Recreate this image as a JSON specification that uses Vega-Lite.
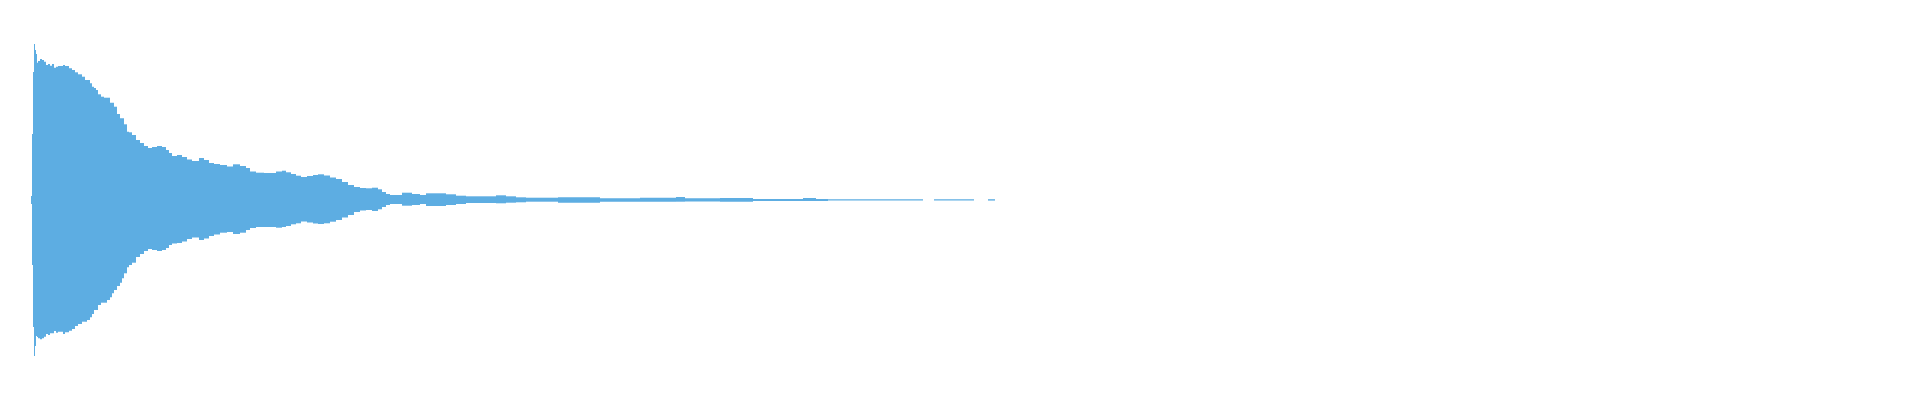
{
  "$schema": "https://vega.github.io/schema/vega-lite/v6.json",
  "width": 1920,
  "height": 400,
  "autosize": {"type": "fit", "contains": "padding"},
  "padding": 0,
  "background": "white",
  "data": {
    "values": [
      {"t0": 0.31, "t1": 0.32, "hi": 0.02, "lo": -0.02},
      {"t0": 0.32, "t1": 0.33, "hi": 0.33, "lo": -0.325},
      {"t0": 0.33, "t1": 0.34, "hi": 0.64, "lo": -0.635},
      {"t0": 0.34, "t1": 0.35, "hi": 0.78, "lo": -0.78},
      {"t0": 0.35, "t1": 0.36, "hi": 0.75, "lo": -0.73},
      {"t0": 0.36, "t1": 0.37, "hi": 0.73, "lo": -0.68},
      {"t0": 0.37, "t1": 0.38, "hi": 0.6865, "lo": -0.685},
      {"t0": 0.38, "t1": 0.40, "hi": 0.695, "lo": -0.6915},
      {"t0": 0.40, "t1": 0.42, "hi": 0.705, "lo": -0.6965},
      {"t0": 0.42, "t1": 0.44, "hi": 0.70, "lo": -0.6915},
      {"t0": 0.44, "t1": 0.46, "hi": 0.6915, "lo": -0.6835},
      {"t0": 0.46, "t1": 0.48, "hi": 0.675, "lo": -0.67},
      {"t0": 0.48, "t1": 0.50, "hi": 0.68, "lo": -0.675},
      {"t0": 0.50, "t1": 0.52, "hi": 0.6715, "lo": -0.6665},
      {"t0": 0.52, "t1": 0.54, "hi": 0.68, "lo": -0.6665},
      {"t0": 0.54, "t1": 0.56, "hi": 0.6615, "lo": -0.655},
      {"t0": 0.56, "t1": 0.58, "hi": 0.6665, "lo": -0.6635},
      {"t0": 0.58, "t1": 0.63, "hi": 0.67, "lo": -0.6585},
      {"t0": 0.63, "t1": 0.65, "hi": 0.675, "lo": -0.67},
      {"t0": 0.65, "t1": 0.69, "hi": 0.67, "lo": -0.6615},
      {"t0": 0.69, "t1": 0.72, "hi": 0.6585, "lo": -0.6535},
      {"t0": 0.72, "t1": 0.75, "hi": 0.65, "lo": -0.645},
      {"t0": 0.75, "t1": 0.78, "hi": 0.6385, "lo": -0.63},
      {"t0": 0.78, "t1": 0.82, "hi": 0.6285, "lo": -0.62},
      {"t0": 0.82, "t1": 0.85, "hi": 0.6165, "lo": -0.6085},
      {"t0": 0.85, "t1": 0.87, "hi": 0.60, "lo": -0.6085},
      {"t0": 0.87, "t1": 0.90, "hi": 0.60, "lo": -0.60},
      {"t0": 0.90, "t1": 0.92, "hi": 0.5835, "lo": -0.5865},
      {"t0": 0.92, "t1": 0.94, "hi": 0.5665, "lo": -0.57},
      {"t0": 0.94, "t1": 0.96, "hi": 0.56, "lo": -0.55},
      {"t0": 0.96, "t1": 0.98, "hi": 0.55, "lo": -0.55},
      {"t0": 0.98, "t1": 1.01, "hi": 0.5285, "lo": -0.525},
      {"t0": 1.01, "t1": 1.04, "hi": 0.5165, "lo": -0.5135},
      {"t0": 1.04, "t1": 1.07, "hi": 0.5115, "lo": -0.5135},
      {"t0": 1.07, "t1": 1.10, "hi": 0.5115, "lo": -0.50},
      {"t0": 1.10, "t1": 1.12, "hi": 0.4865, "lo": -0.4865},
      {"t0": 1.12, "t1": 1.14, "hi": 0.4865, "lo": -0.4665},
      {"t0": 1.14, "t1": 1.17, "hi": 0.4665, "lo": -0.45},
      {"t0": 1.17, "t1": 1.20, "hi": 0.43, "lo": -0.43},
      {"t0": 1.20, "t1": 1.22, "hi": 0.4085, "lo": -0.4135},
      {"t0": 1.22, "t1": 1.24, "hi": 0.4085, "lo": -0.3915},
      {"t0": 1.24, "t1": 1.27, "hi": 0.3785, "lo": -0.3665},
      {"t0": 1.27, "t1": 1.29, "hi": 0.3415, "lo": -0.3365},
      {"t0": 1.29, "t1": 1.32, "hi": 0.3385, "lo": -0.325},
      {"t0": 1.32, "t1": 1.36, "hi": 0.325, "lo": -0.3135},
      {"t0": 1.36, "t1": 1.40, "hi": 0.30, "lo": -0.285},
      {"t0": 1.40, "t1": 1.44, "hi": 0.285, "lo": -0.27},
      {"t0": 1.44, "t1": 1.48, "hi": 0.27, "lo": -0.255},
      {"t0": 1.48, "t1": 1.52, "hi": 0.26, "lo": -0.245},
      {"t0": 1.52, "t1": 1.57, "hi": 0.265, "lo": -0.25},
      {"t0": 1.57, "t1": 1.62, "hi": 0.27, "lo": -0.255},
      {"t0": 1.62, "t1": 1.66, "hi": 0.265, "lo": -0.25},
      {"t0": 1.66, "t1": 1.69, "hi": 0.25, "lo": -0.24},
      {"t0": 1.69, "t1": 1.72, "hi": 0.235, "lo": -0.225},
      {"t0": 1.72, "t1": 1.77, "hi": 0.22, "lo": -0.2175},
      {"t0": 1.77, "t1": 1.82, "hi": 0.225, "lo": -0.215},
      {"t0": 1.82, "t1": 1.87, "hi": 0.215, "lo": -0.2075},
      {"t0": 1.87, "t1": 1.92, "hi": 0.2025, "lo": -0.195},
      {"t0": 1.92, "t1": 1.99, "hi": 0.195, "lo": -0.1875},
      {"t0": 1.99, "t1": 2.04, "hi": 0.21, "lo": -0.20},
      {"t0": 2.04, "t1": 2.09, "hi": 0.20, "lo": -0.1925},
      {"t0": 2.09, "t1": 2.14, "hi": 0.185, "lo": -0.18},
      {"t0": 2.14, "t1": 2.20, "hi": 0.18, "lo": -0.1725},
      {"t0": 2.20, "t1": 2.27, "hi": 0.175, "lo": -0.1635},
      {"t0": 2.27, "t1": 2.33, "hi": 0.1675, "lo": -0.16},
      {"t0": 2.33, "t1": 2.40, "hi": 0.1785, "lo": -0.17},
      {"t0": 2.40, "t1": 2.46, "hi": 0.17, "lo": -0.1635},
      {"t0": 2.46, "t1": 2.50, "hi": 0.16, "lo": -0.15},
      {"t0": 2.50, "t1": 2.56, "hi": 0.1425, "lo": -0.14},
      {"t0": 2.56, "t1": 2.64, "hi": 0.1365, "lo": -0.135},
      {"t0": 2.64, "t1": 2.76, "hi": 0.135, "lo": -0.135},
      {"t0": 2.76, "t1": 2.82, "hi": 0.1425, "lo": -0.1385},
      {"t0": 2.82, "t1": 2.86, "hi": 0.1465, "lo": -0.135},
      {"t0": 2.86, "t1": 2.91, "hi": 0.1385, "lo": -0.13},
      {"t0": 2.91, "t1": 2.96, "hi": 0.13, "lo": -0.1215},
      {"t0": 2.96, "t1": 3.01, "hi": 0.1215, "lo": -0.1165},
      {"t0": 3.01, "t1": 3.07, "hi": 0.115, "lo": -0.1075},
      {"t0": 3.07, "t1": 3.13, "hi": 0.12, "lo": -0.1125},
      {"t0": 3.13, "t1": 3.18, "hi": 0.125, "lo": -0.1175},
      {"t0": 3.18, "t1": 3.24, "hi": 0.1285, "lo": -0.12},
      {"t0": 3.24, "t1": 3.30, "hi": 0.1225, "lo": -0.1165},
      {"t0": 3.30, "t1": 3.36, "hi": 0.1125, "lo": -0.1085},
      {"t0": 3.36, "t1": 3.42, "hi": 0.105, "lo": -0.10},
      {"t0": 3.42, "t1": 3.48, "hi": 0.09, "lo": -0.0875},
      {"t0": 3.48, "t1": 3.54, "hi": 0.075, "lo": -0.075},
      {"t0": 3.54, "t1": 3.60, "hi": 0.065, "lo": -0.06},
      {"t0": 3.60, "t1": 3.66, "hi": 0.06, "lo": -0.0525},
      {"t0": 3.66, "t1": 3.72, "hi": 0.0585, "lo": -0.05},
      {"t0": 3.72, "t1": 3.78, "hi": 0.0615, "lo": -0.055},
      {"t0": 3.78, "t1": 3.82, "hi": 0.0535, "lo": -0.0465},
      {"t0": 3.82, "t1": 3.86, "hi": 0.04, "lo": -0.035},
      {"t0": 3.86, "t1": 3.90, "hi": 0.03, "lo": -0.025},
      {"t0": 3.90, "t1": 4.02, "hi": 0.025, "lo": -0.02},
      {"t0": 4.02, "t1": 4.12, "hi": 0.0365, "lo": -0.0285},
      {"t0": 4.12, "t1": 4.20, "hi": 0.03, "lo": -0.025},
      {"t0": 4.20, "t1": 4.26, "hi": 0.025, "lo": -0.02},
      {"t0": 4.26, "t1": 4.46, "hi": 0.0335, "lo": -0.03},
      {"t0": 4.46, "t1": 4.56, "hi": 0.0285, "lo": -0.025},
      {"t0": 4.56, "t1": 4.66, "hi": 0.0215, "lo": -0.02},
      {"t0": 4.66, "t1": 4.96, "hi": 0.0185, "lo": -0.015},
      {"t0": 4.96, "t1": 5.06, "hi": 0.0235, "lo": -0.0165},
      {"t0": 5.06, "t1": 5.16, "hi": 0.0185, "lo": -0.0135},
      {"t0": 5.16, "t1": 5.26, "hi": 0.0135, "lo": -0.0115},
      {"t0": 5.26, "t1": 5.58, "hi": 0.0115, "lo": -0.0085},
      {"t0": 5.58, "t1": 6.00, "hi": 0.0135, "lo": -0.0135},
      {"t0": 6.00, "t1": 6.40, "hi": 0.0085, "lo": -0.0085},
      {"t0": 6.40, "t1": 6.76, "hi": 0.0115, "lo": -0.0085},
      {"t0": 6.76, "t1": 6.85, "hi": 0.015, "lo": -0.0085},
      {"t0": 6.85, "t1": 7.20, "hi": 0.009, "lo": -0.0075},
      {"t0": 7.20, "t1": 7.53, "hi": 0.01, "lo": -0.0085},
      {"t0": 7.53, "t1": 8.03, "hi": 0.005, "lo": -0.005},
      {"t0": 8.03, "t1": 8.16, "hi": 0.01, "lo": -0.005},
      {"t0": 8.16, "t1": 8.28, "hi": 0.005, "lo": -0.005},
      {"t0": 8.28, "t1": 9.23, "hi": 0.004, "lo": -0.003},
      {"t0": 9.34, "t1": 9.74, "hi": 0.004, "lo": -0.003},
      {"t0": 9.88, "t1": 9.95, "hi": 0.004, "lo": -0.003}
    ]
  },
  "mark": {"type": "rect", "color": "#5DADE2"},
  "encoding": {
    "x": {"field": "t0", "type": "quantitative", "scale": {"domain": [0, 19.2], "nice": false, "zero": false}, "axis": null},
    "x2": {"field": "t1"},
    "y": {"field": "hi", "type": "quantitative", "scale": {"domain": [-1, 1], "nice": false}, "axis": null},
    "y2": {"field": "lo"}
  },
  "config": {"view": {"stroke": null}}
}
